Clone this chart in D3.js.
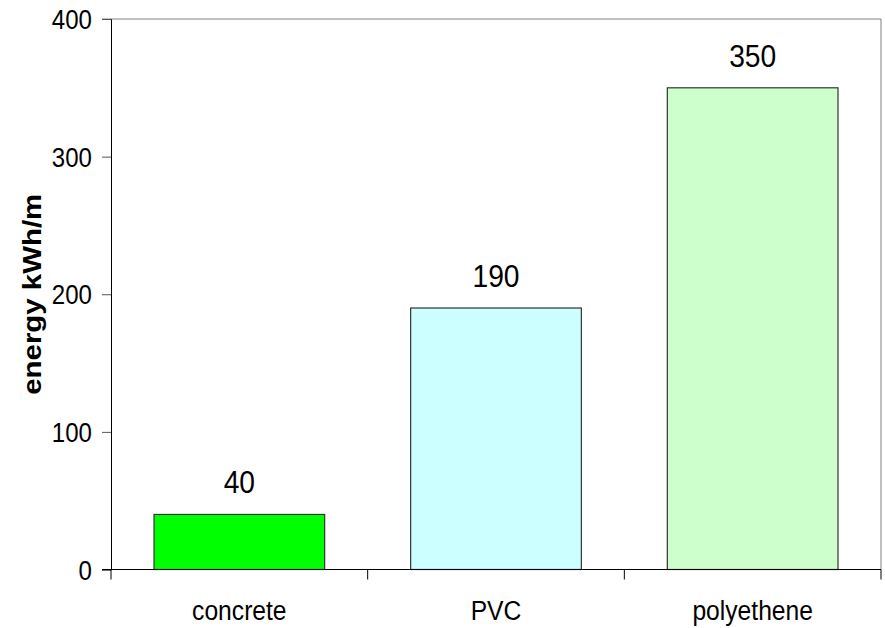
<!DOCTYPE html>
<html><head><meta charset="utf-8">
<script src="https://cdn.jsdelivr.net/npm/d3@7"></script>
<style>
html,body{margin:0;padding:0;background:#fff;}
text{font-family:"Liberation Sans",Arial,sans-serif;fill:#000;}
</style></head>
<body><svg id="c" width="885" height="628"></svg>
<script>
const categories = ["concrete", "PVC", "polyethene"];
const values = [40, 190, 350];
const barColors = ["#00ff00", "#ccffff", "#ccffcc"];
const yTicks = [0, 100, 200, 300, 400];
const yTitle = "energy kWh/m";

const svg = d3.select("#c");
const L = 111, R = 881, T = 19, B = 569.5;

const x = d3.scaleBand().domain(categories).range([L, R])
  .paddingInner(0.335).paddingOuter(0.1675);
const y = d3.scaleLinear().domain([0, 400]).range([B, T]);

// plot frame (gray top/right)
svg.append("line").attr("x1", L - 9).attr("x2", R).attr("y1", T).attr("y2", T)
  .attr("stroke", "#808080").attr("stroke-width", 1);
svg.append("line").attr("x1", R).attr("x2", R).attr("y1", T).attr("y2", B)
  .attr("stroke", "#808080").attr("stroke-width", 1);

// bars
svg.selectAll("rect.bar").data(values).join("rect").attr("class", "bar")
  .attr("x", (d, i) => x(categories[i]))
  .attr("width", x.bandwidth())
  .attr("y", d => y(d))
  .attr("height", d => B - y(d))
  .attr("fill", (d, i) => barColors[i])
  .attr("stroke", "#333").attr("stroke-width", 1.2);

// value labels
svg.selectAll("text.val").data(values).join("text").attr("class", "val")
  .attr("transform", (d, i) => `translate(${x(categories[i]) + x.bandwidth() / 2},${y(d) - 21}) scale(0.91,1)`)
  .attr("text-anchor", "middle")
  .style("font-size", "31px")
  .text(d => d);

// y axis
const yAxis = d3.axisLeft(y).tickValues(yTicks).tickSize(9).tickFormat("");
const gy = svg.append("g").attr("transform", `translate(${L},0)`).call(yAxis);
gy.select(".domain").attr("stroke", "#000");
gy.selectAll(".tick line").attr("stroke", "#555");
svg.selectAll("text.yt").data(yTicks).join("text").attr("class", "yt")
  .attr("transform", d => `translate(${L - 19},${y(d) + 10}) scale(0.86,1)`)
  .attr("text-anchor", "end")
  .style("font-size", "28px")
  .text(d => d);

// x axis line with category-boundary ticks
const xAxisLine = svg.append("g");
xAxisLine.append("line").attr("x1", L - 9).attr("x2", R).attr("y1", B).attr("y2", B)
  .attr("stroke", "#000").attr("stroke-width", 1);
const bounds = [L].concat(categories.map(c => x(c) + x.bandwidth() + x.step() * x.paddingInner() / 2));
bounds[bounds.length - 1] = R;
xAxisLine.selectAll("line.bt").data(bounds).join("line").attr("class", "bt")
  .attr("x1", d => d).attr("x2", d => d).attr("y1", B).attr("y2", B + 10)
  .attr("stroke", "#000");
xAxisLine.selectAll("text.cat").data(categories).join("text").attr("class", "cat")
  .attr("transform", d => `translate(${x(d) + x.bandwidth() / 2},620) scale(0.88,1)`)
  .attr("text-anchor", "middle")
  .style("font-size", "28px")
  .text(d => d);

// y title
svg.append("text")
  .attr("transform", `translate(41,${(T + B) / 2}) rotate(-90)`)
  .attr("text-anchor", "middle")
  .style("font-size", "26px").style("font-weight", "bold")
  .attr("textLength", 201).attr("lengthAdjust", "spacingAndGlyphs")
  .text(yTitle);
</script></body></html>
